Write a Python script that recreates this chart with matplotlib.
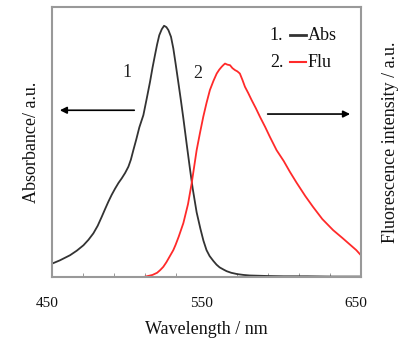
import matplotlib
matplotlib.use("Agg")
import matplotlib.pyplot as plt
import matplotlib.transforms as mtransforms

plt.rcParams['font.family'] = ['Liberation Serif', 'DejaVu Serif']

# absorbance (curve 1)
abs_wl = [450, 455, 461.6, 466, 470.3, 473.5, 476.7, 479.5, 482.1, 484.3, 486.4, 488.6, 490.8, 493, 495.1,
          497.3, 499.4, 501, 502.6, 504.5, 506.5, 509.1, 511.3, 513.4, 515, 516.6, 518, 519.4, 521, 522.5,
          524, 525.3, 527, 528.5, 530, 531.7, 533.4, 535, 537.1, 539.3, 541, 543.6, 546, 548, 550, 552,
          554.4, 556.5, 558.5, 561, 563, 566, 570, 574, 578, 584, 590, 600, 615, 630, 650]
abs_val = [0.05, 0.062, 0.081, 0.098, 0.118, 0.138, 0.162, 0.19, 0.223, 0.252, 0.279, 0.305, 0.328, 0.349, 0.366,
           0.386, 0.409, 0.435, 0.47, 0.51, 0.555, 0.6, 0.662, 0.723, 0.775, 0.822, 0.862, 0.896, 0.918, 0.931,
           0.926, 0.915, 0.89, 0.847, 0.79, 0.723, 0.655, 0.588, 0.495, 0.4, 0.33, 0.24, 0.18, 0.135, 0.1, 0.078,
           0.06, 0.046, 0.036, 0.028, 0.022, 0.016, 0.011, 0.008, 0.006, 0.005, 0.004, 0.003, 0.003, 0.002, 0.002]

# fluorescence (curve 2)
flu_wl = [509, 512, 515, 518, 520, 522, 524, 526, 528.5, 530, 532, 535, 538, 540.4, 543.6, 545.8, 547.9, 550,
          552.2, 554.5, 556.6, 558.2, 559.8, 561, 562, 563.5, 565.2, 566.8, 568.4, 570, 571.6, 573.3, 574.9,
          577, 579.2, 582, 584.6, 588, 591, 595.4, 600, 604, 608.3, 614, 619, 625, 632, 638, 643, 647, 650]
flu_val = [0.0, 0.004, 0.008, 0.016, 0.026, 0.038, 0.055, 0.075, 0.1, 0.12, 0.15, 0.2, 0.27, 0.348, 0.47,
           0.535, 0.594, 0.645, 0.693, 0.727, 0.754, 0.768, 0.779, 0.786, 0.791, 0.787, 0.785, 0.774, 0.767,
           0.762, 0.754, 0.73, 0.705, 0.682, 0.656, 0.625, 0.594, 0.556, 0.52, 0.47, 0.43, 0.39, 0.35, 0.3,
           0.26, 0.215, 0.174, 0.145, 0.12, 0.1, 0.081]

fig = plt.figure(figsize=(4.01, 3.40), dpi=100)
ax = fig.add_axes([0.13, 0.185, 0.77, 0.794])

ax.plot(abs_wl, abs_val, color="#333333", lw=1.3)
ax.plot(flu_wl, flu_val, color="#ff2a2a", lw=1.3)

ax2 = ax.twinx()
ax2.set_ylim(0, 1)
ax2.tick_params(axis="y", which="both", left=False, right=False, labelleft=False, labelright=False)
ax2.set_ylabel("Fluorescence intensity / a.u.", fontsize=13, labelpad=15, color="#111111")
for s in ax2.spines.values():
    s.set_visible(False)

ax.set_xlim(450, 650)
ax.set_ylim(0, 1)
ax.set_xticks([450, 550, 650])
ax.set_xticks(range(450, 651, 20), minor=True)
ax.tick_params(axis="x", which="both", direction="in", length=3, color="#888888", pad=14,
               labelsize=11, labelcolor="#111111")
ax.tick_params(axis="x", which="major", length=0)
ax.tick_params(axis="y", which="both", left=False, right=False, labelleft=False)
shift = mtransforms.ScaledTranslation(-5 / 100, 0, fig.dpi_scale_trans)
for lab in ax.get_xticklabels():
    lab.set_transform(lab.get_transform() + shift)
for s in ax.spines.values():
    s.set_color("#999999")
    s.set_linewidth(1.5)

ax.set_xlabel("Wavelength / nm", fontsize=13, labelpad=8, color="#111111")
ax.set_ylabel("Absorbance/ a.u.", fontsize=13, labelpad=9, color="#111111")

# curve numbers
ax.text(0.243, 0.759, "1", transform=ax.transAxes, fontsize=13, ha="center", va="center", color="#222222")
ax.text(0.472, 0.756, "2", transform=ax.transAxes, fontsize=13, ha="center", va="center", color="#222222")

# arrows pointing to the axes
ax.annotate("", xy=(0.016, 0.618), xytext=(0.275, 0.618), xycoords="axes fraction",
            arrowprops=dict(arrowstyle="-|>", color="black", lw=1.2, mutation_scale=10))
ax.annotate("", xy=(0.974, 0.604), xytext=(0.689, 0.604), xycoords="axes fraction",
            arrowprops=dict(arrowstyle="-|>", color="black", lw=1.2, mutation_scale=10))

# legend
ax.text(0.705, 0.896, "1.", transform=ax.transAxes, fontsize=13, va="center", color="#111111")
ax.plot([0.77, 0.822], [0.896, 0.896], transform=ax.transAxes, color="#333333", lw=2)
ax.text(0.828, 0.896, "Abs", transform=ax.transAxes, fontsize=13, va="center", color="#111111")
ax.text(0.705, 0.796, "2.", transform=ax.transAxes, fontsize=13, va="center", color="#111111")
ax.plot([0.77, 0.822], [0.796, 0.796], transform=ax.transAxes, color="#ff2a2a", lw=1.5)
ax.text(0.828, 0.796, "Flu", transform=ax.transAxes, fontsize=13, va="center", color="#111111")

fig.savefig("out.png", dpi=100)
